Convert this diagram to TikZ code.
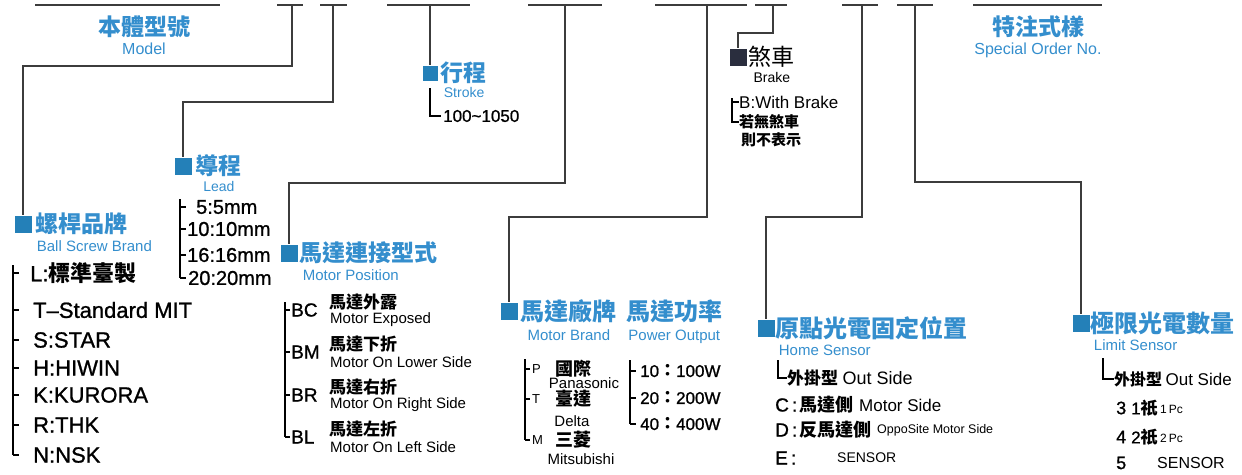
\documentclass[tikz,border=0pt]{standalone}
\usepackage{fontspec}
\setmainfont{Liberation Sans}
\newfontfamily\semib[FakeBold=1, Ligatures=TeX]{Liberation Sans}
\newfontfamily\cjk{Noto Sans CJK TC}
\usetikzlibrary{positioning}

\definecolor{headblue}{RGB}{52,142,205}
\definecolor{boxblue}{RGB}{36,128,184}
\definecolor{brakebox}{RGB}{42,46,62}
\definecolor{wiregray}{RGB}{60,60,60}

\newcommand{\fs}[1]{\fontsize{#1}{#1}\selectfont}
\newcommand{\zh}[1]{{\cjk\bfseries #1}}

\begin{document}
\begin{tikzpicture}[x=1pt, y=-1pt,
                bar/.style={draw=wiregray, line width=2pt},
                wire/.style={draw=wiregray, line width=1.6pt},
                tree/.style={draw=black, line width=1.1pt},
                sqr/.style={fill=boxblue, minimum size=17pt, inner sep=0pt},
                head/.style={text=headblue, font=\cjk\bfseries\fs{23}, inner sep=0pt},
                sub/.style={text=headblue, font=\fs{15}, inner sep=0pt},
                item/.style={anchor=west, inner sep=0pt}]

    \useasboundingbox (0,0) rectangle (1242,474);

    %%% BARS
    \foreach \l/\r in {35/220, 277/303, 320/347, 387/470, 528/602, 655/747, 755/787, 842/878, 897/933, 973/1102}
        \draw[bar] (\l,5) -- (\r,5);
    \coordinate (tscrew) at (292,5);
    \coordinate (tlead) at (333,5);
    \coordinate (tstroke) at (430,5);
    \coordinate (tmpos) at (565,5);
    \coordinate (tmotor) at (707,5);
    \coordinate (tbrake) at (773,5);
    \coordinate (thome) at (862,5);
    \coordinate (tlimit) at (915,5);

    %%% HEADINGS
    \node[head] (model) at (144,27) {本體型號};
    \node[sub, font=\fs{16}, below=5pt of model] (modelen) {Model};
    \node[head] (special) at (1038,27) {特注式樣};
    \node[sub, font=\fs{16}, below=5pt of special] (specialen) {Special Order No.};

    \node[sqr] (screwsq) at (23,224) {};
    \node[head, right=4pt of screwsq] (screw) {螺桿品牌};
    \node[sub, below right=5pt and 1pt of screw.south west] (screwen) {Ball Screw Brand};

    \node[sqr] (leadsq) at (183,166) {};
    \node[head, right=4pt of leadsq] (lead) {導程};
    \node[sub, font=\fs{14}, below=4pt of lead] (leaden) {Lead};

    \node[sqr, minimum size=15pt] (strokesq) at (430,73) {};
    \node[head, right=3pt of strokesq] (stroke) {行程};
    \node[sub, font=\fs{14}, below right=3pt and 3pt of stroke.south west] (strokeen) {Stroke};

    \node[sqr] (mpossq) at (289,253) {};
    \node[head, right=2pt of mpossq] (mpos) {馬達連接型式};
    \node[sub, below right=5pt and 3pt of mpos.south west] (mposen) {Motor Position};

    \node[sqr] (motorsq) at (509,311) {};
    \node[head, font=\cjk\bfseries\fs{24}, right=3pt of motorsq] (motor) {馬達廠牌};
    \node[head, font=\cjk\bfseries\fs{24}, right=9pt of motor] (power) {馬達功率};
    \node[sub, below=7pt of motor] (motoren) {Motor Brand};
    \node[sub, below=7pt of power] (poweren) {Power Output};

    \node[sqr, fill=brakebox] (brakesq) at (738,57) {};
    \node[head, text=black, font=\cjk\fs{23}, right=2pt of brakesq] (brake) {煞車};
    \node[font=\fs{14}, inner sep=0pt, below=4pt of brake] (brakeen) {Brake};

    \node[sqr] (homesq) at (766,328) {};
    \node[head, font=\cjk\bfseries\fs{24}, right=1pt of homesq] (home) {原點光電固定位置};
    \node[sub, below right=5pt and 3pt of home.south west] (homeen) {Home Sensor};

    \node[sqr] (limitsq) at (1081,323) {};
    \node[head, font=\cjk\bfseries\fs{24}, right=1pt of limitsq] (limit) {極限光電數量};
    \node[sub, below right=5pt and 3pt of limit.south west] (limiten) {Limit Sensor};

    %%% CONNECTIONS
    \draw[wire] (tscrew) -- ++(0,61) -| (screwsq);
    \draw[wire] (tlead) -- ++(0,97) -| (leadsq);
    \draw[wire] (tstroke) -- (strokesq);
    \draw[wire] (tmpos) -- ++(0,178) -| (mpossq);
    \draw[wire] (tmotor) -- ++(0,212) -| (motorsq);
    \draw[wire] (tbrake) -- ++(0,28) -| (brakesq);
    \draw[wire] (thome) -- ++(0,212) -| (homesq);
    \draw[wire] (tlimit) -- ++(0,177) -| (limitsq);

    %%% BALL SCREW BRAND
    \foreach \t/\x/\y [count=\i] in {L:\zh{標準臺製}/30/273, T–Standard MIT/33/310, S:STAR/33/340, H:HIWIN/33/368, K:KURORA/33/395, R:THK/33/425, N:NSK/33/455}
    {
        \node[item, font=\semib\fs{22}] (screw\i) at (\x,\y) {\t};
        \draw[tree] (13,\y) -- ++(6,0);
    }
    \draw[tree] (13,265) -- (13,455);

    %%% LEAD
    \foreach \t/\x/\y [count=\i] in {5:5mm/196/207, 10:10mm/187/229, 16:16mm/187/255, 20:20mm/188/278}
    {
        \node[item, font=\semib\fs{20}] (lead\i) at (\x,\y) {\t};
        \draw[tree] (180,\y) -- ++(6,0);
    }
    \draw[tree] (180,199) -- (180,278);

    %%% STROKE
    \node[item, font=\semib\fs{17}] (strokeval) at (443,116) {100\textasciitilde 1050};
    \draw[tree] (430,88) |- ([xshift=-2pt]strokeval.west);

    %%% MOTOR POSITION
    \foreach \c/\z/\e/\y [count=\i] in {BC/馬達外露/Motor Exposed/310, BM/馬達下折/Motor On Lower Side/352, BR/馬達右折/Motor On Right Side/395, BL/馬達左折/Motor On Left Side/437}
    {
        \node[item, font=\semib\fs{19}] (mp\i) at (291,\y) {\c};
        \node[item, font=\cjk\bfseries\fs{17}] (mpzh\i) at (329,\y-8) {\z};
        \node[item, font=\fs{15}] (mpen\i) at (330,\y+10) {\e};
        \draw[tree] (285,\y) -- ++(5,0);
    }
    \draw[tree] (285,302) -- (285,437);

    %%% MOTOR BRAND
    \foreach \c/\z/\e/\y/\ex/\ey [count=\i] in {P/國際/Panasonic/369/584/383, T/臺達/Delta/399/572/421, M/三菱/Mitsubishi/440/581/459}
    {
        \node[item, font=\fs{13}] (mb\i) at (532,\y) {\c};
        \node[font=\cjk\bfseries\fs{18}, inner sep=0pt] (mbzh\i) at (573,\y) {\z};
        \node[font=\fs{15}, inner sep=0pt] (mben\i) at (\ex,\ey) {\e};
        \draw[tree] (525,\y) -- ++(5,0);
    }
    \draw[tree] (525,359) -- (525,440);

    %%% POWER OUTPUT
    \foreach \a/\b/\y [count=\i] in {10/100W/371, 20/200W/398, 40/400W/424}
    {
        \node[item, font=\semib\fs{17}] (pw\i) at (640,\y) {\a\zh{：}\b};
        \draw[tree] (630,\y) -- ++(6,0);
    }
    \draw[tree] (630,360) -- (630,424);

    %%% BRAKE
    \node[item, font=\fs{17}] (brk1) at (739,102) {B:With Brake};
    \node[item, font=\cjk\bfseries\fs{15}] (brk2) at (739,122) {若無煞車};
    \node[item, font=\cjk\bfseries\fs{15}] (brk3) at (741,140) {則不表示};
    \draw[tree] (732,98) |- (brk2.west);
    \draw[tree] (732,102) -- (brk1.west);

    %%% HOME SENSOR
    \node[item, font=\cjk\bfseries\fs{17}] (hout) at (787,378) {外掛型};
    \node[item, font=\fs{18}, right=4pt of hout] (houten) {Out Side};
    \draw[tree] (778,360) |- (hout.west);
    \foreach \c/\z/\e/\s/\y [count=\i] in {C/馬達側/Motor Side/17/405, D/反馬達側/OppoSite Motor Side/12.5/430}
    {
        \node[item, font=\semib\fs{19}] (hc\i) at (775,\y) {\c\,:};
        \node[item, font=\cjk\bfseries\fs{18}, right=2pt of hc\i] (hz\i) {\z};
        \node[item, font=\fs{\s}, right=5pt of hz\i] (he\i) {\e};
    }
    \node[item, font=\semib\fs{19}] (hc3) at (775,458) {E\,:};
    \node[item, font=\fs{14}] (he3) at (837,458) {SENSOR};

    %%% LIMIT SENSOR
    \node[item, font=\cjk\bfseries\fs{16}] (lout) at (1114,379) {外掛型};
    \node[item, font=\fs{17}, right=3pt of lout] (louten) {Out Side};
    \draw[tree] (1103,358) |- (lout.west);
    \foreach \k/\n/\y [count=\i] in {3/1/408, 4/2/437}
    {
        \node[item, font=\semib\fs{18}] (lk\i) at (1116,\y) {\k};
        \node[item, font=\semib\fs{17}] (lz\i) at (1131,\y) {\n\zh{祇}};
        \node[item, font=\fs{12}] (le\i) at (1160,\y+1) {\n\,Pc};
    }
    \node[item, font=\semib\fs{18}] (lk3) at (1116,463) {5};
    \node[item, font=\fs{16}] (le3) at (1157,463) {SENSOR};

\end{tikzpicture}
\end{document}
